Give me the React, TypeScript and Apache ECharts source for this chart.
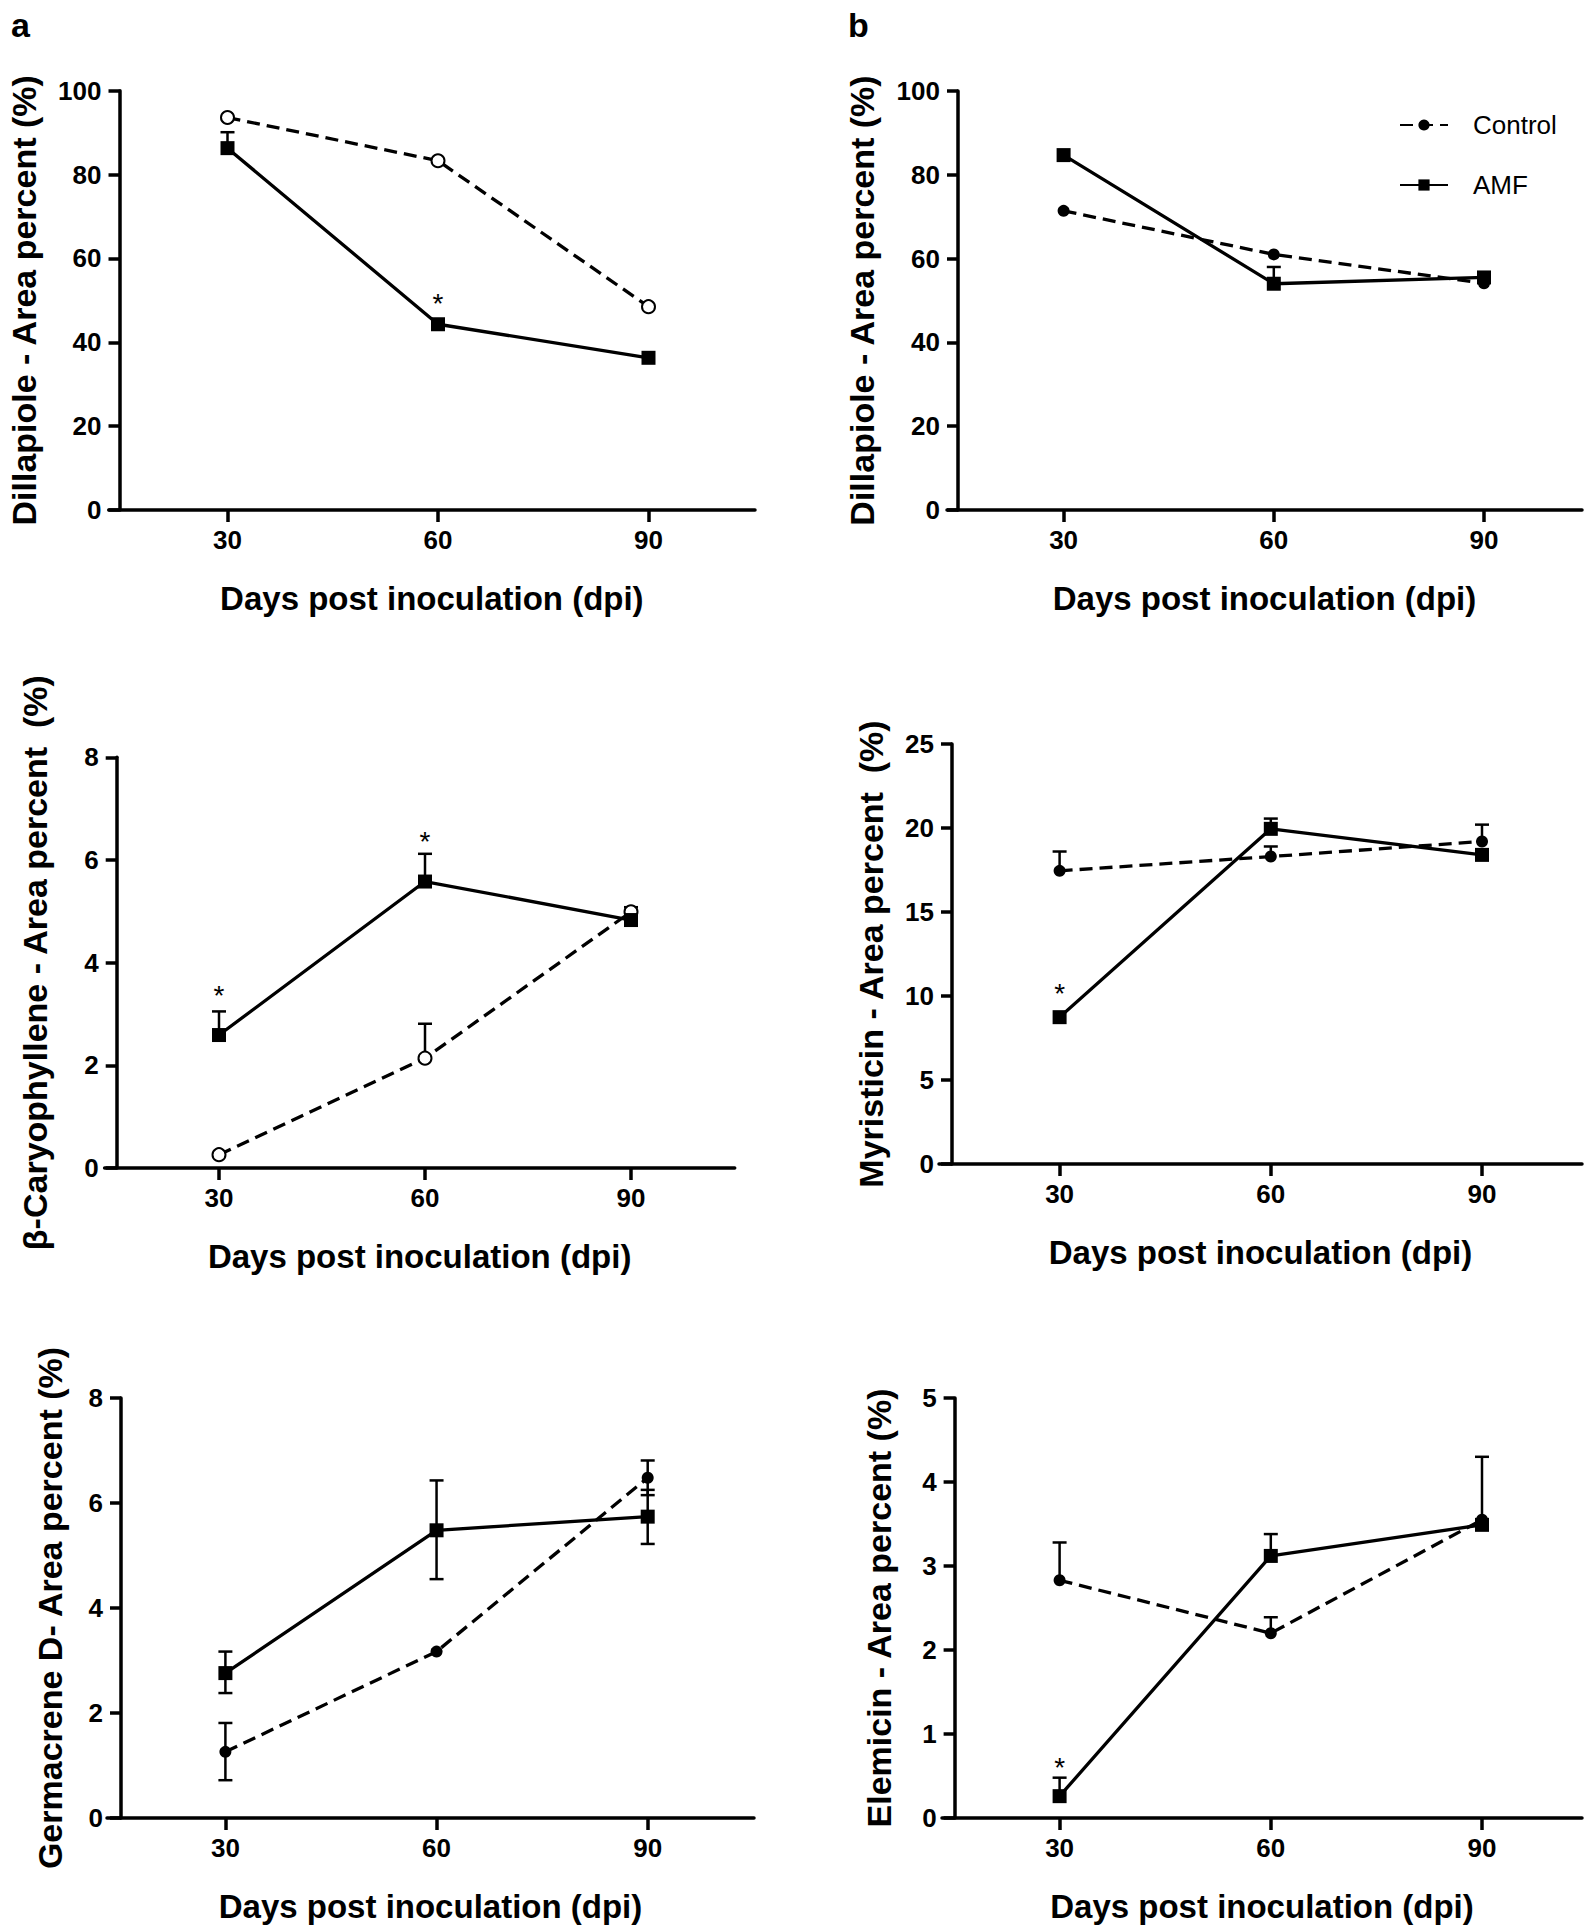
import React, { useEffect, useRef } from 'react';
import * as echarts from 'echarts';

// ---------- data ----------
const days = [30, 60, 90];
const xTickValues = [30, 60, 90];

// a: Dillapiole (left column)
const aControl = [93.6, 83.3, 48.5];
const aAMF = [86.3, 44.3, 36.3];
const aControlErr: number[][] = [];
const aAMFErr = [[30, 86.3, 90.1, 0]];
const aStars = [[60, 51]];

// b: Dillapiole (right column)
const bControl = [71.4, 61.0, 54.1];
const bAMF = [84.7, 54.0, 55.5];
const bControlErr: number[][] = [];
const bAMFErr = [[60, 54.0, 58.0, 0]];
const bStars: number[][] = [];

// c: beta-Caryophyllene
const cControl = [0.26, 2.14, 4.99];
const cAMF = [2.59, 5.58, 4.83];
const cControlErr = [[60, 2.14, 2.81, 0], [90, 4.99, 5.08, 0]];
const cAMFErr = [[30, 2.59, 3.05, 0], [60, 5.58, 6.12, 0]];
const cStars = [[30, 3.49], [60, 6.49]];

// d: Myristicin
const dControl = [17.45, 18.3, 19.2];
const dAMF = [8.74, 19.95, 18.4];
const dControlErr = [[30, 17.45, 18.6, 0], [60, 18.3, 18.9, 0], [90, 19.2, 20.2, 0]];
const dAMFErr = [[60, 19.95, 20.56, 0]];
const dStars = [[30, 10.56]];

// e: Germacrene D
const eControl = [1.26, 3.17, 6.48];
const eAMF = [2.76, 5.48, 5.74];
const eControlErr = [[30, 0.72, 1.81, 1], [90, 6.15, 6.81, 1]];
const eAMFErr = [[30, 2.38, 3.17, 1], [60, 4.55, 6.43, 1], [90, 5.22, 6.25, 1]];
const eStars: number[][] = [];

// f: Elemicin
const fControl = [2.83, 2.2, 3.55];
const fAMF = [0.26, 3.12, 3.49];
const fControlErr = [[30, 2.83, 3.28, 0], [60, 2.2, 2.39, 0], [90, 3.55, 4.3, 0]];
const fAMFErr = [[30, 0.26, 0.48, 0], [60, 3.12, 3.38, 0]];
const fStars = [[30, 0.68]];

const yTitles = [
  'Dillapiole - Area percent (%)',
  'Dillapiole - Area percent (%)',
  'β-Caryophyllene - Area percent  (%)',
  'Myristicin - Area percent  (%)',
  'Germacrene D- Area percent (%)',
  'Elemicin - Area percent (%)',
];
const yMaxes = [100, 100, 8, 25, 8, 5];
const ySteps = [20, 20, 2, 5, 2, 1];
const xTitle = 'Days post inoculation (dpi)';
const panelLetters = ['a', 'b'];
const legendNames = ['Control', 'AMF'];

// ---------- layout (pixels) ----------
const layouts = [
  { start: 108.7, end: 755, x30: 227.5, x90: 648.5, yAxisX: 119.5, top: 90.7, bottom: 510, nameGap: 79, hollow: true },
  { start: 947, end: 1582, x30: 1063.6, x90: 1484, yAxisX: 958, top: 91, bottom: 510, nameGap: 79, hollow: false },
  { start: 104.6, end: 734.7, x30: 219, x90: 631, yAxisX: 116.7, top: 757.3, bottom: 1168, nameGap: 65, hollow: true },
  { start: 939, end: 1582, x30: 1059.6, x90: 1482, yAxisX: 952, top: 744, bottom: 1164, nameGap: 64, hollow: false },
  { start: 107, end: 754, x30: 225.4, x90: 647.7, yAxisX: 121, top: 1398, bottom: 1818, nameGap: 54, hollow: false },
  { start: 942, end: 1582, x30: 1059.6, x90: 1482, yAxisX: 954.6, top: 1398, bottom: 1818, nameGap: 59, hollow: false },
];

const panelData = [
  { control: aControl, amf: aAMF, cErr: aControlErr, aErr: aAMFErr, stars: aStars },
  { control: bControl, amf: bAMF, cErr: bControlErr, aErr: bAMFErr, stars: bStars },
  { control: cControl, amf: cAMF, cErr: cControlErr, aErr: cAMFErr, stars: cStars },
  { control: dControl, amf: dAMF, cErr: dControlErr, aErr: dAMFErr, stars: dStars },
  { control: eControl, amf: eAMF, cErr: eControlErr, aErr: eAMFErr, stars: eStars },
  { control: fControl, amf: fAMF, cErr: fControlErr, aErr: fAMFErr, stars: fStars },
];

const SANS = '"Liberation Sans", Arial, Helvetica, sans-serif';

function buildOption() {
  const grid: any[] = [];
  const xAxis: any[] = [];
  const yAxis: any[] = [];
  const series: any[] = [];

  layouts.forEach((L, i) => {
    const pxPerUnit = (L.x90 - L.x30) / 60;
    const xmin = 30 - (L.x30 - L.start) / pxPerUnit;
    const xmax = 90 + (L.end - L.x90) / pxPerUnit;
    grid.push({ left: L.start, top: L.top, width: L.end - L.start, height: L.bottom - L.top, containLabel: false });
    xAxis.push({
      type: 'value', gridIndex: i, min: xmin, max: xmax,
      name: xTitle, nameLocation: 'middle', nameGap: 72,
      nameTextStyle: { fontFamily: SANS, fontWeight: 'bold', fontSize: 33, color: '#000' },
      axisLine: { show: true, onZero: false, lineStyle: { color: '#000', width: 3.5 } },
      axisTick: { show: true, customValues: xTickValues, length: 12, lineStyle: { color: '#000', width: 3.5 } },
      axisLabel: { show: true, customValues: xTickValues, margin: 17, fontFamily: SANS, fontWeight: 'bold', fontSize: 26, color: '#000' },
      splitLine: { show: false },
    });
    yAxis.push({
      type: 'value', gridIndex: i, min: 0, max: yMaxes[i], interval: ySteps[i],
      offset: -(L.yAxisX - L.start),
      name: yTitles[i], nameLocation: 'middle', nameGap: L.nameGap,
      nameTextStyle: { fontFamily: SANS, fontWeight: 'bold', fontSize: 34, color: '#000' },
      axisLine: { show: true, onZero: false, lineStyle: { color: '#000', width: 3.5 } },
      axisTick: { show: true, length: 11, lineStyle: { color: '#000', width: 3.5 } },
      axisLabel: { show: true, margin: 18, fontFamily: SANS, fontWeight: 'bold', fontSize: 26, color: '#000' },
      splitLine: { show: false },
    });
  });

  // panel b first so that the legend takes its icons
  const order = [1, 0, 2, 3, 4, 5];
  order.forEach((i) => {
    const D = panelData[i];
    const L = layouts[i];
    series.push({
      type: 'line', name: legendNames[0], xAxisIndex: i, yAxisIndex: i,
      data: days.map((d, j) => [d, D.control[j]]),
      symbol: L.hollow ? 'emptyCircle' : 'circle',
      symbolSize: L.hollow ? 13 : 12,
      lineStyle: { color: '#000', width: 3.3, type: [13, 7] },
      itemStyle: { color: '#000', borderColor: '#000', borderWidth: L.hollow ? 2.5 : 0 },
      emphasis: { disabled: true }, z: 4, silent: true,
    });
    series.push({
      type: 'line', name: legendNames[1], xAxisIndex: i, yAxisIndex: i,
      data: days.map((d, j) => [d, D.amf[j]]),
      symbol: 'rect', symbolSize: 14,
      lineStyle: { color: '#000', width: 3.3, type: 'solid' },
      itemStyle: { color: '#000' },
      emphasis: { disabled: true }, z: 4, silent: true,
    });
    const errs = [...D.cErr, ...D.aErr];
    if (errs.length) {
      series.push({
        type: 'custom', xAxisIndex: i, yAxisIndex: i, data: errs, z: 3, silent: true,
        renderItem: (params: any, api: any) => {
          const x = api.value(0), lo = api.value(1), hi = api.value(2), both = api.value(3);
          const p0 = api.coord([x, lo]);
          const p1 = api.coord([x, hi]);
          const half = 7;
          const st = { stroke: '#000', lineWidth: 2.5 };
          const children: any[] = [
            { type: 'line', shape: { x1: p0[0], y1: p0[1], x2: p1[0], y2: p1[1] }, style: st },
            { type: 'line', shape: { x1: p1[0] - half, y1: p1[1], x2: p1[0] + half, y2: p1[1] }, style: st },
          ];
          if (both) children.push({ type: 'line', shape: { x1: p0[0] - half, y1: p0[1], x2: p0[0] + half, y2: p0[1] }, style: st });
          return { type: 'group', children };
        },
      });
    }
    if (D.stars.length) {
      series.push({
        type: 'custom', xAxisIndex: i, yAxisIndex: i, data: D.stars, z: 5, silent: true,
        renderItem: (params: any, api: any) => {
          const p = api.coord([api.value(0), api.value(1)]);
          return { type: 'text', x: p[0], y: p[1] + 7, style: { text: '*', font: `28px ${SANS}`, fill: '#000', align: 'center', verticalAlign: 'middle' } };
        },
      });
    }
  });

  return {
    animation: false,
    backgroundColor: '#fff',
    grid, xAxis, yAxis, series,
    legend: {
      data: legendNames, orient: 'vertical', left: 1394, top: 107,
      itemWidth: 48, itemHeight: 14, itemGap: 34, selectedMode: false,
      textStyle: { fontFamily: SANS, fontSize: 26, color: '#000', padding: [0, 0, 0, 20] },
    },
    graphic: [
      { type: 'text', left: 11, top: 8, style: { text: panelLetters[0], font: `bold 34px ${SANS}`, fill: '#000' } },
      { type: 'text', left: 848, top: 8, style: { text: panelLetters[1], font: `bold 34px ${SANS}`, fill: '#000' } },
    ],
  };
}

export default function App() {
  const ref = useRef<HTMLDivElement>(null);
  useEffect(() => {
    document.body.style.margin = '0';
    if (!ref.current) return;
    const chart = echarts.init(ref.current, undefined, { renderer: 'svg' });
    chart.setOption(buildOption() as any);
    return () => chart.dispose();
  }, []);
  return <div ref={ref} style={{ width: 1595, height: 1931, background: '#fff' }} />;
}
